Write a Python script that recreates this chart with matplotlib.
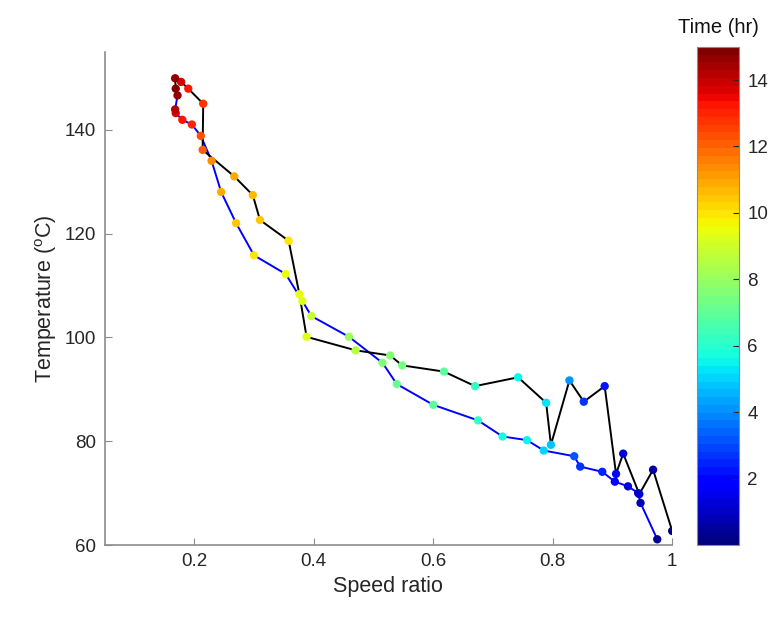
import numpy as np
import matplotlib
matplotlib.use('Agg')
import matplotlib.pyplot as plt

plt.rcParams['font.family'] = ['Liberation Sans', 'DejaVu Sans']
plt.rcParams['mathtext.fontset'] = 'custom'
plt.rcParams['mathtext.rm'] = 'Liberation Sans'

# Path 1 (blue line), from high speed ratio to low
blue_ratio = [0.975, 0.947, 0.943, 0.926, 0.904, 0.883, 0.846, 0.836, 0.785, 0.757,
              0.716, 0.675, 0.600, 0.539, 0.515, 0.459, 0.396, 0.381, 0.353, 0.300,
              0.270, 0.245, 0.229, 0.211, 0.196, 0.180, 0.169, 0.168, 0.172]
blue_temp = [61.1, 68.1, 70.0, 71.3, 72.2, 74.1, 75.1, 77.1, 78.2, 80.2,
             80.9, 84.0, 87.0, 91.0, 95.1, 100.1, 104.1, 107.0, 112.2, 115.8,
             122.0, 128.0, 134.0, 138.8, 141.0, 141.9, 143.2, 143.9, 146.6]
blue_time = [0.3, 0.8, 1.1, 1.4, 1.8, 2.4, 2.8, 3.2, 5.0, 5.4,
             5.8, 6.3, 6.8, 7.2, 7.7, 8.2, 8.8, 9.3, 9.6, 10.0,
             10.5, 10.8, 11.3, 12.3, 13.0, 13.2, 13.8, 14.2, 14.6]

# Path 2 (black line)
black_ratio = [1.000, 0.968, 0.945, 0.918, 0.906, 0.887, 0.852, 0.828, 0.797, 0.789,
               0.742, 0.670, 0.618, 0.548, 0.528, 0.470, 0.388, 0.376, 0.358, 0.310,
               0.298, 0.267, 0.214, 0.215, 0.190, 0.178, 0.168, 0.169]
black_temp = [62.7, 74.5, 69.8, 77.6, 73.7, 90.6, 87.6, 91.7, 79.3, 87.4,
              92.3, 90.6, 93.4, 94.6, 96.5, 97.5, 100.1, 108.3, 118.6, 122.6,
              127.4, 131.0, 136.1, 145.0, 147.9, 149.2, 149.9, 147.9]
black_time = [0.2, 0.6, 1.0, 1.3, 1.7, 2.3, 2.8, 4.0, 4.8, 5.2,
              5.6, 6.3, 7.0, 7.4, 7.7, 8.5, 9.2, 9.5, 10.0, 10.4,
              10.7, 11.0, 12.0, 12.8, 13.2, 13.6, 14.6, 15.0]

cmap = plt.get_cmap('jet', 64)

fig = plt.figure(figsize=(7.78, 6.24), dpi=100)
ax = fig.add_axes([0.1345, 0.1266, 0.7295, 0.7904])
cax = fig.add_axes([0.896, 0.1266, 0.054, 0.7984])

ax.plot(blue_ratio, blue_temp, color='#0000ff', lw=1.4, zorder=2)
ax.plot(black_ratio, black_temp, color='black', lw=1.4, zorder=2)
sc = ax.scatter(blue_ratio, blue_temp, c=blue_time, cmap=cmap, vmin=0, vmax=15,
                s=36, zorder=3, edgecolors='none')
ax.scatter(black_ratio, black_temp, c=black_time, cmap=cmap, vmin=0, vmax=15,
           s=36, zorder=3, edgecolors='none')

ax.set_xlim(0.05, 1.0)
ax.set_ylim(60, 155)
ax.set_xticks([0.2, 0.4, 0.6, 0.8, 1.0])
ax.set_xticklabels(['0.2', '0.4', '0.6', '0.8', '1'])
ax.set_yticks([60, 80, 100, 120, 140])
for s in ['top', 'right']:
    ax.spines[s].set_visible(False)
for s in ['left', 'bottom']:
    ax.spines[s].set_color('#8c8c8c')
    ax.spines[s].set_linewidth(1.2)
ax.tick_params(direction='in', length=5, color='#8c8c8c', labelcolor='#262626',
               labelsize=13.5, pad=6)
ax.set_xlabel('Speed ratio', fontsize=15.5, color='#262626')
ax.set_ylabel('Temperature ($^{\\mathrm{o}}$C)', fontsize=15.5, color='#262626')

cb = fig.colorbar(sc, cax=cax)
cb.set_ticks([2, 4, 6, 8, 10, 12, 14])
cb.outline.set_edgecolor('#8c8c8c')
cb.ax.tick_params(direction='in', length=4, color='#262626', labelcolor='#262626',
                  labelsize=13.5, pad=6)
cb.ax.set_title('Time (hr)', fontsize=14.5, color='#111111', pad=10)

fig.savefig('out.png', dpi=100)
